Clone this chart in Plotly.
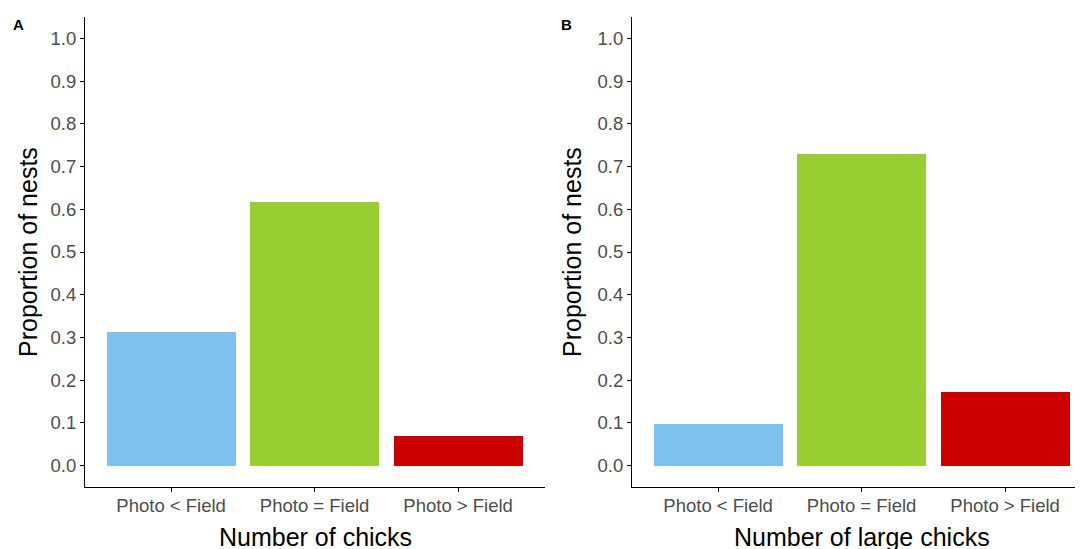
import plotly.graph_objects as go

categories = ["Photo < Field", "Photo = Field", "Photo > Field"]
chicks_values = [0.313, 0.617, 0.070]
large_chicks_values = [0.098, 0.729, 0.173]
bar_colors = ["#7EC0EE", "#9ACD32", "#CD0000"]
y_ticks = [0.0, 0.1, 0.2, 0.3, 0.4, 0.5, 0.6, 0.7, 0.8, 0.9, 1.0]
y_tick_labels = [f"{v:.1f}" for v in y_ticks]

# The page body has an 8px default margin; work in screen coordinates and shift.
OFF = 8
W, H = 1083 - OFF, 549 - OFF


def px(x):
    return (x - OFF) / W


def py(y):
    return (H - (y - OFF)) / H


xs = [1, 2, 3]

fig = go.Figure()
fig.add_trace(go.Bar(x=xs, y=chicks_values, width=0.9, marker=dict(color=bar_colors, line=dict(width=0)),
                     xaxis="x", yaxis="y", showlegend=False))
fig.add_trace(go.Bar(x=xs, y=large_chicks_values, width=0.9, marker=dict(color=bar_colors, line=dict(width=0)),
                     xaxis="x2", yaxis="y2", showlegend=False))

tick_font = dict(family="Liberation Sans, Arial", size=18.5, color="#4D4D4D")
ydom = [py(487), py(17)]
common_x = dict(tickmode="array", tickvals=xs, ticktext=categories, ticks="outside", ticklen=4,
                tickcolor="black", tickwidth=1.1, showline=True, linecolor="black", linewidth=1.1,
                showgrid=False, zeroline=False, tickfont=tick_font, ticklabelstandoff=-2)
common_y = dict(tickmode="array", tickvals=y_ticks, ticktext=y_tick_labels, ticks="outside", ticklen=4,
                tickcolor="black", tickwidth=1.1, showline=True, linecolor="black", linewidth=1.1,
                showgrid=False, zeroline=False, range=[-0.05, 1.05], domain=ydom, tickfont=tick_font)

fig.update_layout(
    width=W, height=H,
    margin=dict(l=0, r=0, t=0, b=0),
    paper_bgcolor="white", plot_bgcolor="white",
    xaxis=dict(common_x, domain=[px(85), px(545)], range=[0.4, 0.4 + 460 / 143.5], anchor="y"),
    yaxis=dict(common_y, anchor="x"),
    xaxis2=dict(common_x, domain=[px(632), 1.0], range=[0.4, 0.4 + 451 / 143.5], anchor="y2"),
    yaxis2=dict(common_y, anchor="x2"),
    bargap=0,
)

title_font = dict(family="Liberation Sans, Arial", size=25, color="black")
label_font = dict(family="Liberation Sans, Arial", size=15, color="black")
ann = [
    dict(text="Number of chicks", x=px(315), y=py(537), font=title_font),
    dict(text="Number of large chicks", x=px(862), y=py(537), font=title_font),
    dict(text="Proportion of nests", x=px(28), y=py(252), textangle=-90, font=title_font),
    dict(text="Proportion of nests", x=px(572), y=py(252), textangle=-90, font=title_font),
    dict(text="<b>A</b>", x=px(19), y=py(25), font=label_font),
    dict(text="<b>B</b>", x=px(566), y=py(25), font=label_font),
]
for a in ann:
    a.update(xref="paper", yref="paper", showarrow=False, xanchor="center", yanchor="middle")
fig.update_layout(annotations=ann)

fig.write_html("out.html")
